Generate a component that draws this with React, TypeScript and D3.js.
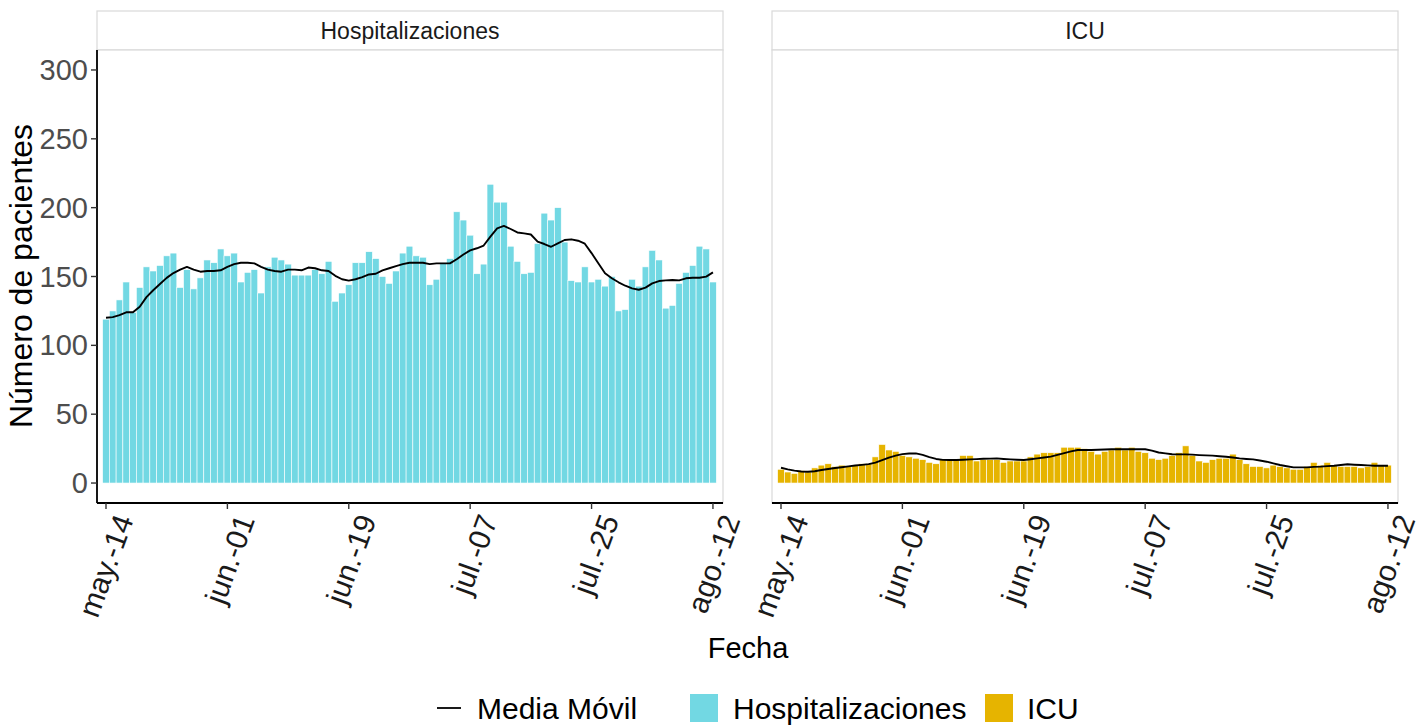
import * as d3 from "d3";

// categories: one bar per day, 14 May to 12 Aug
const startDate = new Date(2021, 4, 14);
const endDate = new Date(2021, 7, 13);
const tickLabels = ["may.-14", "jun.-01", "jun.-19", "jul.-07", "jul.-25", "ago.-12"];
const tickDays = [0, 18, 36, 54, 72, 90];
const yTicks = [0, 50, 100, 150, 200, 250, 300];
const panelNames = ["Hospitalizaciones", "ICU"];
const panelColors = ["#72D8E3", "#E6B400"];

const hospital = [
  119, 125, 133, 146, 124, 142, 157, 154, 158, 165,
  167, 142, 155, 141, 149, 162, 160, 170, 165, 167,
  146, 153, 155, 138, 157, 164, 162, 159, 151, 151,
  151, 155, 152, 161, 132, 138, 144, 160, 160, 168,
  163, 150, 145, 154, 167, 172, 165, 164, 144, 148,
  160, 163, 197, 191, 180, 152, 159, 217, 204, 204,
  172, 161, 152, 153, 174, 196, 191, 200, 175, 147,
  146, 157, 146, 148, 143, 150, 125, 126, 148, 143,
  157, 169, 162, 127, 129, 145, 153, 158, 172, 170, 146,
];

const icu = [
  10, 8, 7, 9, 8, 11, 13, 14, 12, 13,
  12, 13, 14, 14, 19, 28, 24, 23, 20, 19,
  18, 17, 15, 14, 17, 17, 17, 20, 20, 16,
  17, 17, 17, 15, 16, 16, 16, 19, 21, 22,
  22, 22, 26, 26, 26, 25, 23, 21, 23, 24,
  26, 24, 26, 23, 22, 18, 17, 18, 20, 22,
  27, 20, 16, 15, 17, 18, 18, 21, 17, 14,
  12, 12, 11, 13, 12, 11, 10, 10, 12, 15,
  13, 15, 13, 12, 12, 12, 11, 12, 15, 13, 13,
];

const hospitalMA = [
  120, 120.5, 122, 124, 124, 128, 135, 140, 144.5, 149,
  152.5, 155, 157, 155, 153.5, 154, 154, 154.5, 157, 159,
  160, 160, 159.5, 157, 155, 154, 153.5, 155, 155, 154.5,
  156.5, 156, 154.5, 154, 150.5, 148, 147, 148, 149.5, 151.5,
  152, 154.5, 156, 157.5, 159, 160, 160, 160, 159, 159.5,
  159.5, 159.5, 162.5, 166, 169, 170.5, 172.5, 179, 185, 186.7,
  184.5, 182, 181.3, 180.5, 175.3, 173.6, 171.6, 174, 176.5, 177,
  176, 173.8, 167, 159.6, 152.3, 148.7, 145.8, 143.3, 141.4, 140.4,
  141.9, 145, 146.7, 147.2, 147.5, 147.2, 148.7, 149.1, 149.1, 149.9, 153,
];

const icuMA = [
  11.1, 9.9, 9, 8.4, 8.2, 8.6, 9.5, 10.2, 10.9, 11.5,
  12.1, 12.7, 13.2, 13.7, 14.8, 16.6, 18.5, 19.9, 21, 21.5,
  21.5, 20.4, 18.8, 17.5, 16.8, 16.7, 16.7, 16.9, 17.2, 17.4,
  17.6, 17.7, 17.9, 17.5, 17.2, 16.9, 16.7, 17.3, 17.9, 18.5,
  19.2, 20.4, 21.7, 23, 24, 24, 24, 24.2, 24.4, 24.5,
  24.5, 24.5, 24.5, 24.5, 24.5, 23.5, 22.2, 21.5, 20.9, 20.8,
  20.8, 20.6, 20.3, 20.1, 19.9, 19.5, 19.1, 18.5, 17.9, 17.5,
  17.2, 16.4, 15.5, 14.3, 13.1, 12.2, 11.4, 11.4, 11.4, 11.7,
  11.9, 12.3, 12.6, 13.1, 13.6, 13.3, 13.1, 12.8, 12.6, 12.6, 12.6,
];

const font = "'Liberation Sans', Arial, Helvetica, sans-serif";
const gridGrey = "#d9d9d9";

const Panel = ({ idx, values, ma }: { idx: number; values: number[]; ma: number[] }) => {
  const pw = 626;
  const ph = 453;
  const left = 97 + idx * 675;
  const top = 50;
  const days = d3.timeDay.range(startDate, endDate);
  const x = d3.scaleLinear().domain([-1.334, 91.49]).range([0, pw]);
  const y = d3.scaleLinear().domain([-14.5, 314.5]).range([ph, 0]);
  const bw = x(1) - x(0);
  const line = d3
    .line<number>()
    .x((_, i) => x(i))
    .y((d) => y(d));

  return (
    <g transform={`translate(${left},${top})`}>
      {/* strip */}
      <rect x={0} y={-39} width={pw} height={39} fill="#ffffff" stroke={gridGrey} strokeWidth={1.2} />
      <text x={pw / 2} y={-19.5} textAnchor="middle" dominantBaseline="central" fontSize={23} fill="#1a1a1a">
        {panelNames[idx]}
      </text>
      <rect x={0} y={0} width={pw} height={ph} fill="#ffffff" stroke={gridGrey} strokeWidth={1.2} />

      {days.map((d, i) => (
        <rect
          key={+d}
          x={x(i) - bw / 2}
          y={y(values[i])}
          width={bw}
          height={y(0) - y(values[i])}
          fill={panelColors[idx]}
          stroke="#ffffff"
          strokeWidth={0.6}
        />
      ))}
      <path d={line(ma) ?? ""} fill="none" stroke="#000000" strokeWidth={1.9} strokeLinejoin="round" />

      {/* axes */}
      <line x1={0} x2={pw} y1={ph} y2={ph} stroke="#000000" strokeWidth={1.8} />
      {idx === 0 && <line x1={0} x2={0} y1={0} y2={ph} stroke="#000000" strokeWidth={1.8} />}
      {idx === 0 &&
        yTicks.map((t) => (
          <g key={t} transform={`translate(0,${y(t)})`}>
            <line x1={-6} x2={0} stroke="#333333" strokeWidth={1.4} />
            <text x={-9} textAnchor="end" dominantBaseline="central" fontSize={29} fill="#4d4d4d">
              {t}
            </text>
          </g>
        ))}
      {tickDays.map((t, i) => (
        <g key={t} transform={`translate(${x(t)},${ph})`}>
          <line y1={0} y2={6} stroke="#333333" strokeWidth={1.4} />
          <text
            transform={`translate(18,13) rotate(-70)`}
            textAnchor="end"
            dominantBaseline="central"
            fontSize={30}
            fill="#1a1a1a"
          >
            {tickLabels[i]}
          </text>
        </g>
      ))}
    </g>
  );
};

export default function App() {
  return (
    <svg
      width={1428}
      height={726}
      style={{ position: "absolute", left: 0, top: 0, fontFamily: font }}
    >
      <rect width={1428} height={726} fill="#ffffff" />
      <Panel idx={0} values={hospital} ma={hospitalMA} />
      <Panel idx={1} values={icu} ma={icuMA} />

      <text
        transform="translate(32,276) rotate(-90)"
        textAnchor="middle"
        fontSize={32}
        fill="#000000"
      >
        Número de pacientes
      </text>
      <text x={748} y={658} textAnchor="middle" fontSize={29} fill="#000000">
        Fecha
      </text>

      {/* legend */}
      <line x1={437} x2={461} y1={708} y2={708} stroke="#000000" strokeWidth={1.8} />
      <text x={477} y={708} dominantBaseline="central" fontSize={30} fill="#000000">
        Media Móvil
      </text>
      <rect x={690} y={694} width={28} height={28} fill={panelColors[0]} />
      <text x={733} y={708} dominantBaseline="central" fontSize={30} fill="#000000">
        Hospitalizaciones
      </text>
      <rect x={985} y={694} width={28} height={28} fill={panelColors[1]} />
      <text x={1027} y={708} dominantBaseline="central" fontSize={30} fill="#000000">
        ICU
      </text>
    </svg>
  );
}
